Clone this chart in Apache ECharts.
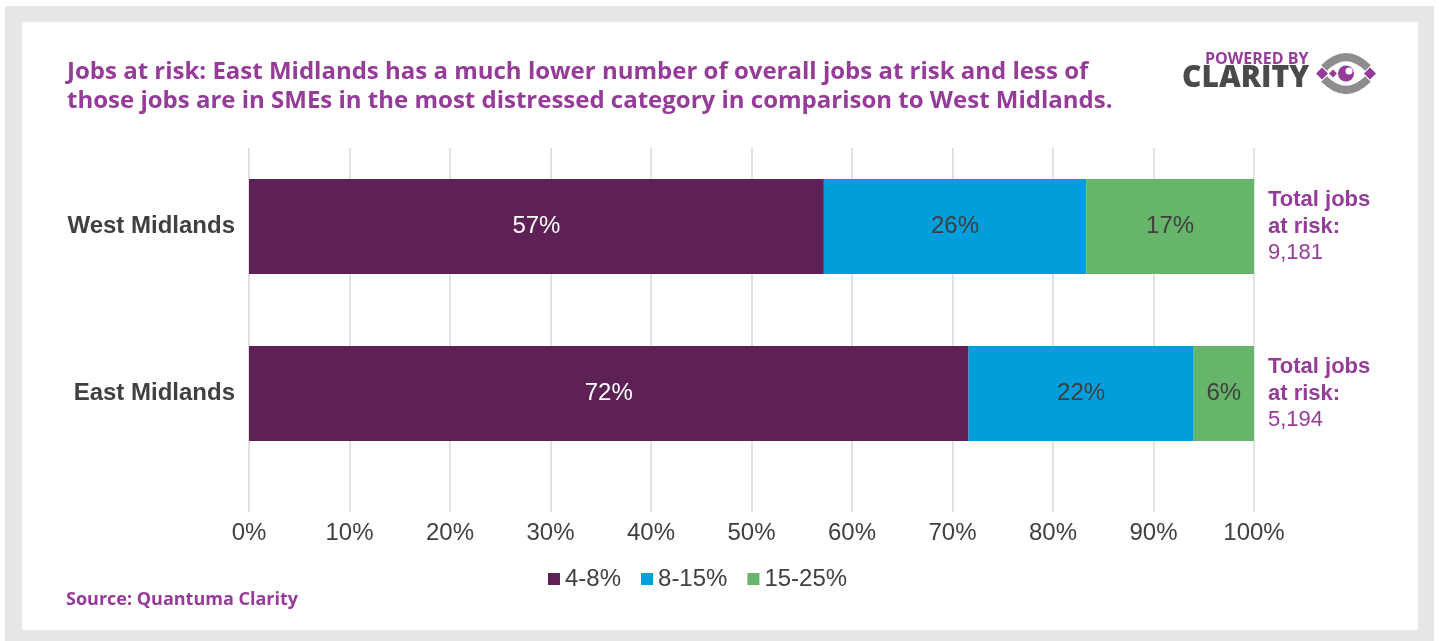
<!DOCTYPE html>
<html lang="en">
<head>
    <meta charset="UTF-8">
    <title>Jobs at risk</title>
    <script src="https://cdn.jsdelivr.net/npm/echarts@6/dist/echarts.min.js"></script>
    <style>
        html, body { margin: 0; padding: 0; background: #fff; }
        #chart { width: 1439px; height: 641px; }
    </style>
</head>
<body>
<div id="chart"></div>
<script>
    // data
    var regions = ['West Midlands', 'East Midlands'];
    var band48 = [57.2, 71.6];    // 4-8%
    var band815 = [26.1, 22.4];   // 8-15%
    var band1525 = [16.7, 6.0];   // 15-25%
    var totals = ['9,181', '5,194'];
    var legendNames = ['4-8%', '8-15%', '15-25%'];

    var purple = '#953b98';
    var dark = '#404040';
    var font = '"Liberation Sans", Arial, sans-serif';

    var chart = echarts.init(document.getElementById('chart'));

    function pctLabel(col) {
        return {
            show: true,
            color: col,
            fontSize: 24,
            fontFamily: font,
            formatter: function (p) { return Math.round(p.value) + '%'; }
        };
    }

    chart.setOption({
        animation: false,
        backgroundColor: '#fff',
        graphic: [
            { type: 'rect', z: -10, shape: { x: 5, y: 6, width: 1429, height: 635 }, style: { fill: '#e6e6e8' } },
            { type: 'rect', z: -9, shape: { x: 22, y: 22, width: 1396, height: 608 }, style: { fill: '#fff', stroke: '#f0f0f0', lineWidth: 1 } },
            {
                type: 'text', x: 67, y: 57,
                style: {
                    text: 'Jobs at risk: East Midlands has a much lower number of overall jobs at risk and less of\nthose jobs are in SMEs in the most distressed category in comparison to West Midlands.',
                    fill: purple, font: 'bold 24px "Open Sans", sans-serif', lineHeight: 29.5
                }
            },
            {
                type: 'text', x: 66, y: 591,
                style: { text: 'Source: Quantuma Clarity', fill: purple, font: 'bold 18px "Open Sans", sans-serif' }
            },
            // logo
            {
                type: 'text', x: 1205, y: 51,
                style: { text: 'POWERED BY', fill: purple, font: 'bold 16px "Open Sans", sans-serif' }
            },
            {
                type: 'text', x: 1182, y: 63,
                style: { text: 'CLARITY', fill: '#4a4a4a', font: '800 30px "Open Sans", sans-serif' }
            },
            { type: 'bezierCurve', shape: { x1: 1324, y1: 68, x2: 1368, y2: 68, cpx1: 1346, cpy1: 46 }, style: { fill: null, stroke: '#8d8d8d', lineWidth: 8 } },
            { type: 'bezierCurve', shape: { x1: 1324, y1: 79, x2: 1368, y2: 79, cpx1: 1346, cpy1: 101 }, style: { fill: null, stroke: '#8d8d8d', lineWidth: 8 } },
            { type: 'polygon', shape: { points: [[1316, 73.5], [1322, 67.5], [1328, 73.5], [1322, 79.5]] }, style: { fill: purple } },
            { type: 'polygon', shape: { points: [[1364, 73.5], [1370, 67.5], [1376, 73.5], [1370, 79.5]] }, style: { fill: purple } },
            { type: 'polygon', shape: { points: [[1329, 73.5], [1333, 69.5], [1337, 73.5], [1333, 77.5]] }, style: { fill: purple } },
            { type: 'circle', shape: { cx: 1346, cy: 73.5, r: 8 }, style: { fill: purple } },
            { type: 'circle', shape: { cx: 1349, cy: 71, r: 3.5 }, style: { fill: '#fff' } }
        ],
        legend: {
            data: legendNames,
            left: 543, top: 562,
            icon: 'rect', itemWidth: 12, itemHeight: 12, itemGap: 20,
            textStyle: { color: dark, fontSize: 24, fontFamily: font }
        },
        grid: [
            { left: 249, width: 1005, top: 148, height: 364 },
            { left: 249, width: 1005, top: 143, height: 334 }
        ],
        xAxis: [
            {
                gridIndex: 0, type: 'value', min: 0, max: 100, interval: 10,
                axisLabel: { color: dark, fontSize: 24, fontFamily: font, margin: 9, formatter: '{value}%' },
                axisLine: { show: false }, axisTick: { show: false },
                splitLine: { lineStyle: { color: '#d9d9d9', width: 1.5 } }
            },
            {
                gridIndex: 1, type: 'value', min: 0, max: 100, show: false,
                splitLine: { show: false }
            }
        ],
        yAxis: [
            {
                gridIndex: 0, type: 'category', data: regions, show: false
            },
            {
                gridIndex: 1, type: 'category', data: regions, inverse: true,
                axisLine: { show: false }, axisTick: { show: false },
                axisLabel: { color: dark, fontSize: 24, fontWeight: 'bold', fontFamily: font, margin: 14, padding: [0, 0, 4, 0] }
            }
        ],
        series: [
            {
                name: legendNames[0], type: 'bar', stack: 'all', xAxisIndex: 1, yAxisIndex: 1,
                data: band48, barWidth: 95, itemStyle: { color: '#5d2156' },
                label: pctLabel('#fff')
            },
            {
                name: legendNames[1], type: 'bar', stack: 'all', xAxisIndex: 1, yAxisIndex: 1,
                data: band815, barWidth: 95, itemStyle: { color: '#009fdb' },
                label: pctLabel(dark)
            },
            {
                name: legendNames[2], type: 'bar', stack: 'all', xAxisIndex: 1, yAxisIndex: 1,
                data: band1525, barWidth: 95, itemStyle: { color: '#67b56a' },
                label: pctLabel(dark)
            },
            {
                // totals shown to the right of each bar
                type: 'bar', stack: 'all', xAxisIndex: 1, yAxisIndex: 1,
                data: [0, 0], barWidth: 95, itemStyle: { color: 'transparent' },
                label: {
                    show: true, position: 'right', distance: 14,
                    formatter: function (p) {
                        return '{b|Total jobs}\n{b|at risk:}\n{n|' + totals[p.dataIndex] + '}';
                    },
                    rich: {
                        b: { color: purple, fontSize: 22, fontWeight: 'bold', fontFamily: font, lineHeight: 26.5 },
                        n: { color: purple, fontSize: 22, fontFamily: font, lineHeight: 26.5 }
                    }
                }
            }
        ]
    });
</script>
</body>
</html>
